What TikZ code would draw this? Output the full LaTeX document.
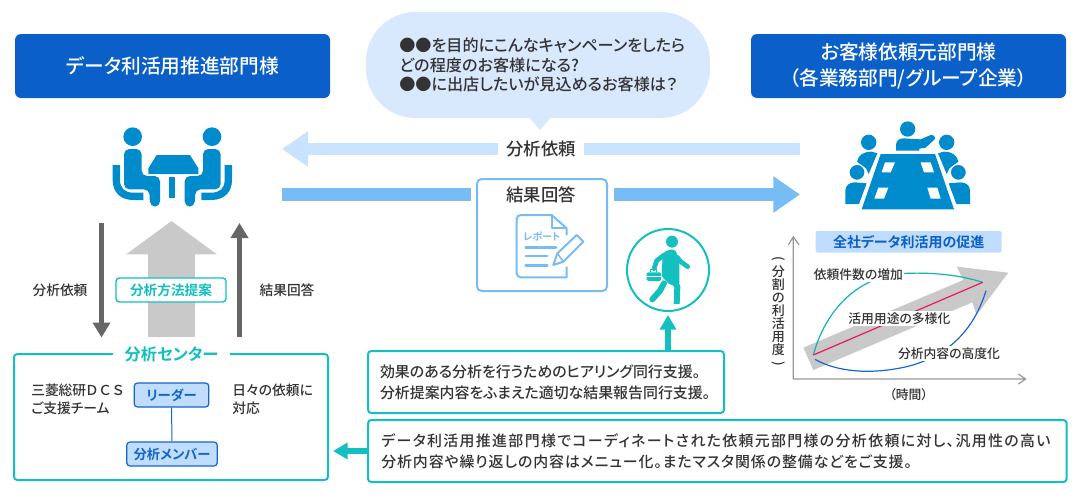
\documentclass[tikz,border=0pt]{standalone}
\usepackage{fontspec}
\setmainfont[UprightFont=* Medium,BoldFont=* Bold,RawFeature={+palt}]{Noto Sans CJK JP}
\usetikzlibrary{arrows.meta}
\definecolor{hdblue}{HTML}{0A60C8}
\definecolor{bubble}{HTML}{D9E9FD}
\definecolor{arlight}{HTML}{C9E2FD}
\definecolor{armid}{HTML}{77BCF2}
\definecolor{teal}{HTML}{13BFBF}
\definecolor{icon}{HTML}{008CCC}
\definecolor{ink}{HTML}{333333}
\definecolor{dgray}{HTML}{666666}
\definecolor{lgray}{HTML}{C9C9C9}
\definecolor{memfill}{HTML}{C0DDFD}
\definecolor{membd}{HTML}{1565C8}
\definecolor{axisc}{HTML}{999999}
\definecolor{cteal}{HTML}{13B5A5}
\definecolor{cpink}{HTML}{E8185F}
\definecolor{cblue}{HTML}{1A66D0}
\tikzset{
 x=.75pt,y=-.75pt,
 every node/.style={text=ink,inner sep=0pt,font=\fontsize{11.2pt}{15.75pt}\selectfont},
 header/.style={fill=hdblue,rounded corners=4.5pt,text=white,align=center,minimum width=236.25pt,minimum height=48pt,font=\fontsize{14.75pt}{19.5pt}\selectfont},
 tealbox/.style={draw=teal,line width=1.5pt,outer sep=0pt,rounded corners=2.5pt,fill=white,align=left,anchor=north west},
 blockL/.style={line width=9.5pt,arlight,-{Triangle[length=19.5pt,width=25.5pt]}},
 blockM/.style={line width=9.5pt,armid,-{Triangle[length=20pt,width=26pt]}},
 plainM/.style={line width=9.5pt,armid},
 grayar/.style={line width=3.75pt,dgray,-{Triangle[length=11.25pt,width=12.75pt]}},
 bigar/.style={line width=35.25pt,lgray,-{Triangle[length=25pt,width=66.75pt]}},
 tealar/.style={line width=4.5pt,teal,-{Triangle[length=11pt,width=12pt]}},
 member/.style={draw=membd,fill=memfill,line width=.9pt,rounded corners=2.5pt,text=membd,font=\fontsize{10pt}{12pt}\selectfont\bfseries},
 small/.style={font=\fontsize{10.3pt}{13.5pt}\selectfont,align=left},
 chartlab/.style={font=\fontsize{9.6pt}{12pt}\selectfont},
 chartlabw/.style={chartlab,fill=white,inner xsep=1pt,inner ysep=1pt},
}
\begin{document}
\begin{tikzpicture}
\useasboundingbox (0,0) rectangle (1080,500);
% headers
\node[header] (hl) at (172.5,66) {データ利活用推進部門様};
\node[header] (hr) at (908.5,66) {お客様依頼元部門様\\（各業務部門/グループ企業）};
% bubble
\fill[bubble] (528,116) -- (540,130) -- (552,116) -- cycle;
\node[fill=bubble,rounded corners=37pt,minimum width=258pt,minimum height=79.5pt] (bub) at (538,65) {};
\node[align=left,anchor=west,font=\fontsize{12.1pt}{14.6pt}\selectfont] (bubt) at (399,65) {●●を目的にこんなキャンペーンをしたら\\どの程度のお客様になる?\\●●に出店したいが見込めるお客様は？};
% arrows between departments
\coordinate (a1s) at (800,149); \coordinate (a1e) at (282,149);
\draw[blockL] (a1s) -- (a1e);
\node[fill=white,inner xsep=6pt,inner ysep=3pt,font=\fontsize{13pt}{14pt}\selectfont] (reqlab) at (541,149) {分析依頼};
\coordinate (a2s) at (282,194.5); \coordinate (a2e) at (800,194.5);
\node[draw=armid,line width=1.5pt,rounded corners=3.5pt,fill=white,minimum width=97.5pt,minimum height=84pt] (res) at (542,235) {};
\node[font=\fontsize{13pt}{14pt}\selectfont] (reslab) at (541,195) {結果回答};
\coordinate (a2m) at (470.5,194.5); \coordinate (a2n) at (613.5,194.5);
\draw[plainM] (a2s) -- (a2m);
\draw[blockM] (a2n) -- (a2e);
% report icon
\begin{scope}[shift={(470,170)},scale=1/3]
 \draw[armid,line width=1.5pt,line join=round] (290,290) -- (290,322) [rounded corners=3pt] -- (140,322) -- (140,135) [sharp corners] -- (245,135) -- (290,175) -- (290,195);
 \draw[armid,line width=1.5pt,line join=round] (245,135) -- (245,175) -- (290,175);
 \draw[armid,line width=2pt,line cap=round] (167,232) -- (258,232) (167,258) -- (232,258) (167,286) -- (232,286);
 \node[text=armid,font=\fontsize{7.5pt}{8pt}\selectfont\bfseries] (replab) at (215,200) {レポート};
 \draw[armid,line width=1.5pt,line join=round] (250,285) -- (262,250) -- (320,195) -- (340,215) -- (280,275) -- cycle;
 \draw[armid,line width=1.2pt] (262,250) -- (280,275);
\end{scope}
% left icon
\begin{scope}[shift={(0,100)},scale=1/3]
 \foreach \m/\o in {1/0,-1/1034}{
 \begin{scope}[shift={(\o,0)},xscale=\m]
  \fill[icon] (398,110) circle (28);
  \fill[icon,rounded corners=4pt] (372,200) -- (372,147) -- (425,147) -- (425,228) -- (480,228) -- (480,320) -- (450,320) -- (448,268) -- (372,268) -- cycle;
  \fill[icon] (338,195) -- (360,195) -- (360,240) .. controls (360,265) and (375,278) .. (400,278) -- (430,278) -- (430,300) -- (400,300) .. controls (360,300) and (338,275) .. (338,240) -- cycle;
 \end{scope}}
 \fill[icon] (470,165) -- (570,165) -- (595,205) -- (595,222) -- (445,222) -- (445,205) -- cycle;
 \fill[icon] (508,232) rectangle (526,295);
\end{scope}
% meeting icon
\begin{scope}[shift={(760,100)},scale=1/3]
 \fill[icon] (443,87) circle (23);
 \fill[icon] (408,152) -- (408,135) .. controls (408,122) and (418,115) .. (430,115) -- (482,118) -- (512,105) .. controls (518,103) and (528,110) .. (524,118) -- (497,143) -- (478,146) -- (478,152) -- cycle;
 \foreach \m/\o in {1/0,-1/886}{
 \begin{scope}[shift={(\o,0)},xscale=\m]
  \fill[icon] (326,127) circle (23);
  \fill[icon] (291,185) .. controls (295,165) and (310,155) .. (335,155) -- (352,160) -- (326,222) -- (318,205) -- (291,185) -- cycle;
  \fill[icon,draw=white,line width=.8pt] (291,217) circle (24);
  \fill[icon] (256,312) -- (256,272) .. controls (256,255) and (270,247) .. (285,247) -- (320,250) -- (297,312) -- cycle;
 \end{scope}}
 \fill[icon] (362,162) -- (525,162) -- (582,328) -- (305,328) -- cycle;
 \fill[white] (375,187) -- (405,187) -- (392,217) -- (365,217) -- cycle;
 \fill[white] (482,187) -- (512,187) -- (522,217) -- (492,217) -- cycle;
 \fill[white] (355,263) -- (385,263) -- (372,296) -- (343,296) -- cycle;
 \fill[white] (502,263) -- (532,263) -- (542,296) -- (512,296) -- cycle;
\end{scope}
% centre box
\node[tealbox,minimum width=235.5pt,minimum height=94.5pt,fill=white] (ctr) at (14,354) {};
\node[fill=white,inner xsep=9pt,inner ysep=2pt,text=teal,font=\fontsize{12.2pt}{14pt}\selectfont\bfseries] (ctrlab) at (171.5,354) {分析センター};
% left vertical arrows
\coordinate (g1s) at (101.5,223); \coordinate (g1e) at (101.5,337.5);
\draw[grayar] (g1s) -- (g1e);
\coordinate (g2s) at (239.5,337); \coordinate (g2e) at (239.5,223);
\draw[grayar] (g2s) -- (g2e);
\coordinate (g3s) at (171.5,337); \coordinate (g3e) at (171.5,221);
\draw[bigar] (g3s) -- (g3e);
\node[fill=white,draw=teal,line width=1.1pt,rounded corners=2.5pt,minimum width=82.5pt,minimum height=18pt,text=teal,font=\fontsize{10.25pt}{13pt}\selectfont\bfseries] (prop) at (171,290) {分析方法提案};
\node[small] (l1) at (60,290) {分析依頼};
\node[small] (l2) at (287,290) {結果回答};
% inside centre
\node[member,minimum width=56pt,minimum height=18pt] (lead) at (171.5,395) {リーダー};
\node[member,minimum width=68pt,minimum height=18pt] (mem) at (172,454) {分析メンバー};
\draw[membd,line width=.75pt] (lead) -- (mem);
\node[small,anchor=north west] (t1) at (31,384) {三菱総研Ｄ\,Ｃ\,Ｓ\\ご支援チーム};
\node[small,anchor=north west] (t2) at (232,384) {日々の依頼に\\対応};
% text boxes
\node[tealbox,minimum width=267pt,minimum height=46.5pt,text width=249pt,inner xsep=9pt,inner ysep=0pt] (b1) at (368,351) {効果のある分析を行うためのヒアリング同行支援。\\分析提案内容をふまえた適切な結果報告同行支援。};
\node[tealbox,minimum width=523.5pt,minimum height=46.5pt,text width=504pt,inner xsep=10pt,inner ysep=0pt] (b2) at (368,420) {\addfontfeature{LetterSpace=9}データ利活用推進部門様でコーディネートされた依頼元部門様の分析依頼に対し、汎用性の高い\\\addfontfeature{LetterSpace=6}分析内容や繰り返しの内容はメニュー化。またマスタ関係の整備などをご支援。};
\coordinate (ta) at (333,451);
\draw[tealar] (b2.west |- ta) -- (ta);
% walker
\node[draw=teal,line width=1.5pt,circle,minimum size=61.5pt] (walk) at (668,270) {};
\coordinate (tw) at (668,315);
\coordinate (twb) at (668,351);
\draw[tealar] (twb) -- (tw);
\begin{scope}[shift={(470,170)},scale=1/3]
 \fill[teal] (606,215) circle (18);
 \fill[teal,rounded corners=1.5pt] (578,252) -- (592,240) -- (615,238) -- (628,270) -- (628,345) -- (600,345) -- (575,320) -- cycle;
 \draw[teal,line width=3.5pt,line cap=round,line join=round] (622,262) -- (632,275) -- (653,290);
 \draw[teal,line width=3.5pt,line cap=round,line join=round] (582,255) -- (560,272) -- (552,296);
 \draw[teal,line width=4.5pt,line join=round] (612,335) -- (622,350) -- (620,402);
 \draw[teal,line width=4.5pt,line cap=round,line join=round] (582,340) -- (570,362) -- (547,388);
 \fill[teal,rounded corners=1pt] (530,307) rectangle (573,333);
 \draw[teal,line width=.8pt] (542,307) -- (542,298) -- (560,298) -- (560,307);
 \draw[white,line width=.4pt] (530,320) -- (573,320);
\end{scope}
% chart
\begin{scope}[shift={(760,225)},scale=1/3]
 \coordinate (ox) at (100,462); \coordinate (oy) at (100,35); \coordinate (xx) at (797,462);
 \draw[axisc,line width=.9pt,line join=round] (85,60) -- (oy) -- (117,60) (oy) -- (ox) -- (xx) (775,447) -- (xx) -- (775,477);
 \fill[lgray] (130,368) -- (610,165) -- (590,125) -- (745,143) -- (650,270) -- (637,232) -- (160,435) -- cycle;
 \draw[cteal,line width=.9pt] (160,390) .. controls (195,260) and (290,150) .. (440,145) .. controls (520,142) and (600,150) .. (668,172);
 \draw[cpink,line width=.9pt] (160,390) -- (668,172);
 \draw[cblue,line width=.9pt] (165,403) .. controls (230,440) and (330,450) .. (440,425) .. controls (560,395) and (640,320) .. (678,197);
 \node[chartlabw] (c1) at (295,150) {依頼件数の増加};
 \node[chartlabw] (c2) at (418,280) {活用用途の多様化};
 \node[chartlabw] (c3) at (567,385) {分析内容の高度化};
 \node[fill=memfill,rounded corners=1.5pt,minimum width=139.5pt,minimum height=16.25pt,text=hdblue,font=\fontsize{10.5pt}{13pt}\selectfont\bfseries] (ctitle) at (446,50.5) {全社データ利活用の促進};
 \node[chartlab] (tlab) at (446,508) {（時間）};
 \node[chartlab,align=center,font=\fontsize{9.75pt}{9.8pt}\selectfont] (ylab) at (55,262) {\rotatebox[origin=c]{-90}{(}\\分\\割\\の\\利\\活\\用\\度\\\rotatebox[origin=c]{-90}{)}};
\end{scope}
\end{tikzpicture}
\end{document}
